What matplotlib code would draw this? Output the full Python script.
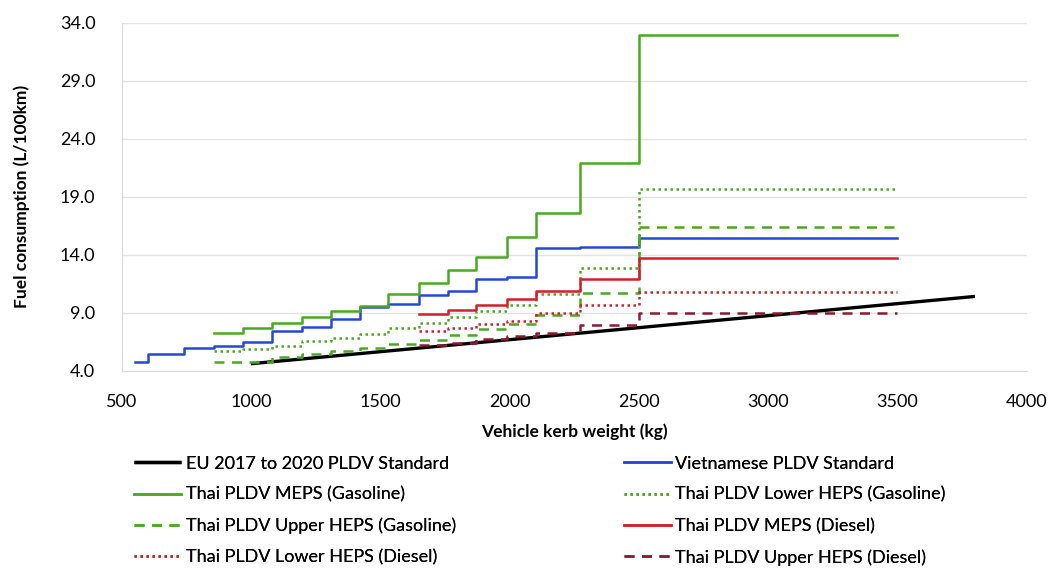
import numpy as np
import matplotlib.pyplot as plt

plt.rcParams['font.family'] = ['Lato', 'DejaVu Sans']

# Weight class boundaries (kg); last value closes the final class
viet_kg = [550, 601, 741, 856, 971, 1081, 1196, 1311, 1421, 1531, 1651, 1761, 1871, 1991, 2101, 2271, 2501, 3500]
thai_gas_kg = [856, 971, 1081, 1196, 1311, 1421, 1531, 1651, 1761, 1871, 1991, 2101, 2271, 2501, 3500]
thai_dsl_kg = [1651, 1761, 1871, 1991, 2101, 2271, 2501, 3500]

# Fuel consumption limits (L/100km) per class
viet = [4.72, 5.44, 5.93, 6.13, 6.45, 7.4, 7.74, 8.43, 9.52, 9.75, 10.5, 10.87, 11.9, 12.1, 14.55, 14.69, 15.42]
gas_meps = [7.28, 7.65, 8.14, 8.6, 9.17, 9.6, 10.59, 11.6, 12.68, 13.83, 15.5, 17.57, 21.88, 32.9]
gas_lower = [5.7, 5.87, 6.15, 6.55, 6.85, 7.14, 7.65, 8.1, 8.6, 9.17, 9.66, 10.6, 12.83, 19.7]
gas_upper = [4.72, 4.78, 5.2, 5.45, 5.7, 5.95, 6.3, 6.65, 7.05, 7.6, 8.0, 8.8, 10.67, 16.4]
dsl_meps = [8.86, 9.23, 9.66, 10.2, 10.88, 11.9, 13.7]
dsl_lower = [7.42, 7.65, 8.03, 8.25, 8.95, 9.64, 10.8]
dsl_upper = [6.2, 6.4, 6.7, 6.95, 7.28, 7.9, 8.95]

# EU standard is a straight line in mass
eu_kg = [1000, 3800]
eu = [4.6, 10.4]

fig = plt.figure(figsize=(10.51, 5.70), dpi=100)
ax = fig.add_axes([0.1158, 0.3497, 0.861, 0.6105])

def stepline(xs, ys, **kw):
    ys = list(ys) + [ys[-1]]
    return ax.step(xs, ys, where='post', **kw)[0]

blue = '#2548d4'
green = '#4aa823'
red = '#d21f2b'
maroon = '#8c1a30'

h_eu, = ax.plot(eu_kg, eu, color='black', lw=2.4, solid_capstyle='butt')
h_viet = stepline(viet_kg, viet, color=blue, lw=1.8)
h_gm = stepline(thai_gas_kg, gas_meps, color=green, lw=1.8)
h_gl = stepline(thai_gas_kg, gas_lower, color=green, lw=1.8, ls=(0, (1, 1.4)))
h_gu = stepline(thai_gas_kg, gas_upper, color=green, lw=1.8, ls=(0, (4, 3)))
h_dm = stepline(thai_dsl_kg, dsl_meps, color=red, lw=1.8)
h_dl = stepline(thai_dsl_kg, dsl_lower, color=red, lw=1.8, ls=(0, (1, 1.4)))
h_du = stepline(thai_dsl_kg, dsl_upper, color=maroon, lw=1.8, ls=(0, (4, 3)))

ax.set_xlim(500, 4000)
ax.set_ylim(4, 34)
ax.set_xticks(np.arange(500, 4001, 500))
ax.set_yticks(np.arange(4, 35, 5))
ax.set_yticklabels([f'{v:.1f}' for v in np.arange(4, 35, 5)])
ax.tick_params(length=0, labelsize=13)
ax.tick_params(axis='x', pad=16.5)
ax.tick_params(axis='y', pad=19)
ax.yaxis.grid(True, color='#e3e3e3', lw=1)
ax.set_axisbelow(True)
for s in ['top', 'right']:
    ax.spines[s].set_visible(False)
for s in ['left', 'bottom']:
    ax.spines[s].set_color('#d9d9d9')

ax.set_xlabel('Vehicle kerb weight (kg)', fontsize=12.5, fontweight='bold', labelpad=10)
ax.set_ylabel('Fuel consumption (L/100km)', fontsize=12.5, fontweight='bold')
ax.yaxis.set_label_coords(-0.101, 0.5)

left = [(h_eu, 'EU 2017 to 2020 PLDV Standard'),
        (h_gm, 'Thai PLDV MEPS (Gasoline)'),
        (h_gu, 'Thai PLDV Upper HEPS (Gasoline)'),
        (h_dl, 'Thai PLDV Lower HEPS (Diesel)')]
right = [(h_viet, 'Vietnamese PLDV Standard'),
         (h_gl, 'Thai PLDV Lower HEPS (Gasoline)'),
         (h_dm, 'Thai PLDV MEPS (Diesel)'),
         (h_du, 'Thai PLDV Upper HEPS (Diesel)')]

for items, x0 in [(left, 0.1277), (right, 0.5935)]:
    leg = fig.legend([h for h, _ in items], [t for _, t in items],
                     loc='upper left', bbox_to_anchor=(x0, 0.2004), frameon=False,
                     fontsize=13, handlelength=2.6, handletextpad=0.25,
                     labelspacing=0.83, borderaxespad=0, borderpad=0)
    fig.add_artist(leg)

fig.savefig('out.png', dpi=100)
